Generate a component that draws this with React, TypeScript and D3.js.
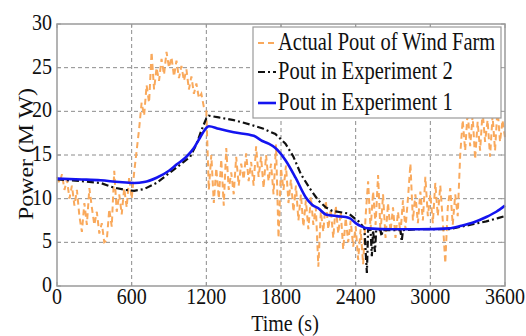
import React from "react";
import * as d3 from "d3";

// Time grid of the measured wind-farm output (one reading every 20 s)
const actualStep = 20;
// Actual Pout of Wind Farm (MW), 0..3600 s
const actualPout: number[] = [
    12.5, 11.8, 12.8, 11.0,
    12.2, 10.0, 11.5, 9.2, 11.0,
    8.0, 6.2, 9.5, 7.0, 11.2,
    9.0, 7.0, 8.5, 6.0, 7.2, 5.0,
    5.2, 8.8, 6.8, 13.2, 8.5,
    10.5, 8.2, 11.2, 9.0, 12.5, 10.0,
    13.0, 15.5, 18.0, 21.0, 19.5,
    23.0, 21.0, 26.8, 22.5, 25.0,
    23.5, 26.0, 24.2, 26.8, 25.0,
    26.2, 24.0, 25.8, 23.8, 25.2,
    23.5, 24.8, 22.5, 24.0, 22.0,
    23.2, 21.5, 22.0, 20.5, 20.0,
    11.0, 15.0, 9.5, 13.5, 10.0,
    14.5, 9.2, 15.8, 11.0, 13.0,
    10.5, 14.8, 11.5, 14.0, 12.2,
    15.2, 12.0, 14.2, 11.5, 16.0,
    12.5, 14.8, 11.2, 15.0, 12.0,
    14.0, 10.5, 16.2, 5.5, 13.5,
    11.0, 13.8, 9.5, 12.2, 8.5,
    11.5, 7.5, 10.5, 6.8, 9.8,
    6.5, 10.2, 7.0, 9.0, 2.2,
    8.5, 6.2, 9.8, 6.5, 8.8,
    5.5, 9.2, 6.0, 8.5, 4.2,
    7.8, 5.0, 7.5, 4.5, 6.8,
    3.0, 6.5, 2.5, 8.0, 12.0,
    6.5, 10.8, 7.0, 12.7, 6.0,
    10.5, 5.5, 9.5, 6.2, 9.0,
    5.5, 8.5, 6.0, 9.8, 6.5,
    10.0, 14.0, 7.5, 10.5, 7.2,
    10.8, 7.5, 12.5, 8.0, 10.5,
    7.2, 11.8, 8.0, 11.5, 7.5,
    2.6, 9.0, 11.2, 7.0, 10.5,
    8.0, 15.0, 19.0, 15.5, 20.0,
    16.0, 19.5, 14.5, 18.8, 15.5,
    20.0, 16.5, 19.0, 14.8, 19.5,
    15.5, 20.4, 16.5, 19.0, 17.0,
];

// Pout in Experiment 2
const exp2Time: number[] = [0, 200, 350, 450, 550, 620, 700, 800, 900, 1000, 1070, 1120, 1160, 1200, 1220, 1300, 1420, 1550, 1660, 1755, 1836, 1900, 1960, 2030, 2100, 2160, 2212, 2343, 2424, 2470, 2490, 2500, 2520, 2530, 2540, 2555, 2565, 2600, 2608, 2616, 2760, 2770, 2780, 2900, 3000, 3100, 3150, 3250, 3350, 3450, 3550, 3600];
const exp2Pout: number[] = [12.2, 12.0, 11.8, 11.3, 11.0, 10.9, 11.1, 11.8, 12.9, 14.0, 14.8, 16.2, 17.8, 19.2, 19.5, 19.3, 19.0, 18.5, 18.0, 17.4, 16.3, 14.8, 12.8, 11.2, 9.8, 9.0, 8.6, 8.3, 7.4, 6.6, 1.5, 6.5, 6.4, 3.4, 6.4, 3.9, 6.4, 6.4, 5.7, 6.4, 6.4, 5.1, 6.4, 6.5, 6.5, 6.5, 6.5, 6.8, 7.1, 7.4, 7.8, 8.0];

// Pout in Experiment 1
const exp1Time: number[] = [0, 200, 350, 500, 620, 700, 800, 900, 960, 1040, 1100, 1150, 1200, 1220, 1300, 1420, 1580, 1650, 1700, 1755, 1836, 1917, 1997, 2050, 2100, 2160, 2250, 2320, 2360, 2400, 2450, 2500, 2700, 2900, 3150, 3250, 3350, 3450, 3530, 3600];
const exp1Pout: number[] = [12.3, 12.2, 12.1, 11.9, 11.8, 11.9, 12.4, 13.2, 13.9, 14.8, 15.8, 17.0, 18.1, 18.3, 18.0, 17.6, 17.2, 16.6, 16.3, 15.8, 14.4, 12.4, 10.2, 9.3, 8.9, 8.2, 8.0, 7.9, 7.7, 7.2, 6.8, 6.6, 6.5, 6.5, 6.6, 6.9, 7.3, 7.9, 8.5, 9.2];

const xTicks: number[] = [0, 600, 1200, 1800, 2400, 3000, 3600];
const yTicks: number[] = [0, 5, 10, 15, 20, 25, 30];
const legendLabels: string[] = ["Actual Pout of Wind Farm", "Pout in Experiment 2", "Pout in Experiment 1"];

const width = 526;
const height = 336;
const marginLeft = 57;
const marginRight = 21;
const marginTop = 24;
const marginBottom = 50;
const fontFamily = "'Liberation Serif', 'Times New Roman', serif";
const stretch = 1.2;

const orange = "#F9A95C";
const black = "#111111";
const blue = "#1414F0";
const frame = "#9a9a9a";

type Pt = { t: number; v: number };

// text drawn a bit taller than wide, like the source figure
const SText: React.FC<{ x: number; y: number; size: number; anchor?: string; children: React.ReactNode }> = ({ x, y, size, anchor = "start", children }) => (
    <text
        transform={`translate(${x},${y}) scale(1,${stretch})`}
        fontSize={size}
        fontFamily={fontFamily}
        textAnchor={anchor}
        fill="#111"
    >
        {children}
    </text>
);

const App: React.FC = () => {
    const xScale = d3.scaleLinear().domain([0, 3600]).range([marginLeft, width - marginRight]);
    const yScale = d3.scaleLinear().domain([0, 30]).range([height - marginBottom, marginTop]);

    const actual: Pt[] = actualPout.map((v, i) => ({ t: i * actualStep, v }));
    const exp2: Pt[] = exp2Time.map((t, i) => ({ t, v: exp2Pout[i] }));
    const exp1: Pt[] = exp1Time.map((t, i) => ({ t, v: exp1Pout[i] }));

    const lineLinear = d3.line<Pt>().x(d => xScale(d.t)).y(d => yScale(d.v));
    const lineSmooth = d3.line<Pt>().x(d => xScale(d.t)).y(d => yScale(d.v)).curve(d3.curveMonotoneX);

    const x0 = xScale(0);
    const x1 = xScale(3600);
    const y0 = yScale(0);
    const y1 = yScale(30);

    // legend box
    const lgX = 253;
    const lgY = 27;
    const lgW = 248;
    const lgH = 91;
    const rowY = [43, 72, 103];
    const legendStyles = [
        { stroke: orange, dash: "6,4", w: 2 },
        { stroke: black, dash: "7,3,2,3", w: 2.2 },
        { stroke: blue, dash: "none", w: 2.6 },
    ];

    return (
        <svg width={width} height={height} style={{ position: "absolute", left: 0, top: 0, background: "#fff" }}>
            <rect x={0} y={0} width={width} height={height} fill="#fff" />
            {/* Grid lines */}
            <g stroke="#8c8c8c" strokeWidth={1} strokeDasharray="4,3">
                {yTicks.slice(1, -1).map(t => (
                    <line key={`gy-${t}`} x1={x0} x2={x1} y1={yScale(t)} y2={yScale(t)} />
                ))}
                {xTicks.slice(1, -1).map(t => (
                    <line key={`gx-${t}`} x1={xScale(t)} x2={xScale(t)} y1={y0} y2={y1} />
                ))}
            </g>
            {/* Series */}
            <path d={lineLinear(actual) ?? ""} fill="none" stroke={orange} strokeWidth={2} strokeDasharray="6,4" />
            <path d={lineLinear(exp2) ?? ""} fill="none" stroke={black} strokeWidth={2.2} strokeDasharray="7,3,2,3" />
            <path d={lineSmooth(exp1) ?? ""} fill="none" stroke={blue} strokeWidth={2.6} />
            {/* Frame + ticks */}
            <rect x={x0} y={y1} width={x1 - x0} height={y0 - y1} fill="none" stroke={frame} strokeWidth={1.5} />
            <g stroke={frame} strokeWidth={1}>
                {xTicks.map(t => (
                    <g key={`tx-${t}`}>
                        <line x1={xScale(t)} x2={xScale(t)} y1={y0} y2={y0 - 4} />
                        <line x1={xScale(t)} x2={xScale(t)} y1={y1} y2={y1 + 4} />
                    </g>
                ))}
                {yTicks.map(t => (
                    <g key={`ty-${t}`}>
                        <line x1={x0} x2={x0 + 4} y1={yScale(t)} y2={yScale(t)} />
                        <line x1={x1} x2={x1 - 4} y1={yScale(t)} y2={yScale(t)} />
                    </g>
                ))}
            </g>
            {/* Tick labels */}
            {yTicks.map(t => (
                <SText key={`ly-${t}`} x={x0 - 5} y={yScale(t) + 6} size={20} anchor="end">{t}</SText>
            ))}
            {xTicks.map(t => (
                <SText key={`lx-${t}`} x={xScale(t)} y={y0 + 18} size={20} anchor="middle">{t}</SText>
            ))}
            {/* Axis titles */}
            <SText x={(x0 + x1) / 2 + 4} y={331} size={20} anchor="middle">Time (s)</SText>
            <text
                transform={`translate(33,154) rotate(-90)`}
                fontSize={20}
                fontFamily={fontFamily}
                textAnchor="middle"
                textLength={132}
                lengthAdjust="spacingAndGlyphs"
                fill="#111"
            >
                Power (M W)
            </text>
            {/* Legend */}
            <rect x={lgX} y={lgY} width={lgW} height={lgH} fill="#fff" stroke={frame} strokeWidth={1.2} />
            {legendLabels.map((label, i) => (
                <g key={label}>
                    <line
                        x1={lgX + 5}
                        x2={lgX + 23}
                        y1={rowY[i]}
                        y2={rowY[i]}
                        stroke={legendStyles[i].stroke}
                        strokeWidth={legendStyles[i].w}
                        strokeDasharray={legendStyles[i].dash}
                    />
                    <SText x={lgX + 25} y={rowY[i] + 7} size={20.5}>{label}</SText>
                </g>
            ))}
        </svg>
    );
};

export default App;
